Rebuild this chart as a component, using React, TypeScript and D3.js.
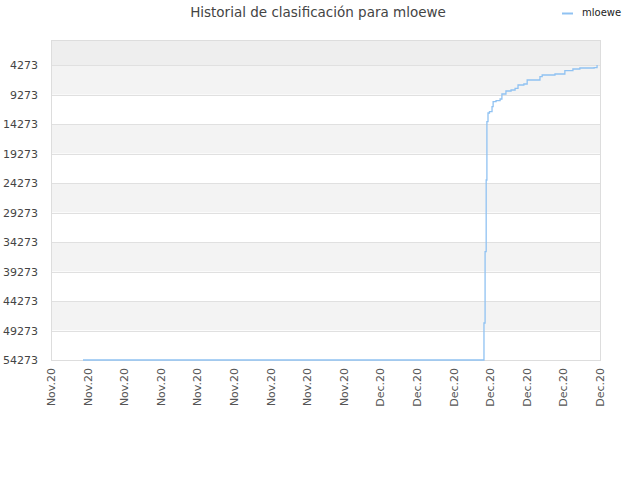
import React, { useEffect, useRef } from "react";
import * as d3 from "d3";

// tick positions are in "tick units" (0..15), labels below
const tickLabels = [
  "Nov.20", "Nov.20", "Nov.20", "Nov.20", "Nov.20", "Nov.20", "Nov.20", "Nov.20", "Nov.20",
  "Dec.20", "Dec.20", "Dec.20", "Dec.20", "Dec.20", "Dec.20", "Dec.20",
];
const yTicks = [4273, 9273, 14273, 19273, 24273, 29273, 34273, 39273, 44273, 49273, 54273];

const rankX = [
  0.874, 11.83, 11.86, 11.89, 11.91, 11.94, 11.98, 12.05, 12.08, 12.16, 12.27, 12.32, 12.43,
  12.57, 12.68, 12.76, 12.92, 13.01, 13.36, 13.42, 13.77, 14.04, 14.26, 14.45, 14.84, 14.92,
];
const rankValues = [
  54273, 47998, 35905, 23744, 13857, 12381, 12161, 11313, 10465, 10295, 10007, 9159, 8650,
  8480, 8192, 7632, 7462, 6784, 6224, 5936, 5767, 5207, 4918, 4749, 4698, 4240,
];

const W = 640;
const H = 480;
const margin = { top: 40, right: 40, bottom: 120, left: 51 };
const font = "DejaVu Sans, Verdana, sans-serif";

const App = () => {
  const ref = useRef<SVGSVGElement>(null);

  useEffect(() => {
    draw();
  });

  const draw = () => {
    const svg = d3.select(ref.current);
    svg.selectAll("*").remove();

    const width = W - margin.left - margin.right;
    const height = H - margin.top - margin.bottom;

    const x = d3.scaleLinear().domain([0, tickLabels.length - 1]).range([margin.left, margin.left + width]);
    const y = d3.scaleLinear().domain([0, 54273]).range([margin.top, margin.top + height]);

    // bands
    const edges = [0, ...yTicks];
    const bands = edges.slice(0, -1).map((v, i) => ({ a: v, b: edges[i + 1], i }));
    svg.append("g")
      .selectAll("rect")
      .data(bands)
      .enter()
      .append("rect")
      .attr("x", margin.left)
      .attr("width", width)
      .attr("y", (d) => y(d.a))
      .attr("height", (d) => y(d.b) - y(d.a))
      .attr("fill", (d) => (d.i === 0 ? "#eeeeee" : d.i % 2 === 1 ? "#f3f3f3" : "#ffffff"));

    // grid
    svg.append("g")
      .selectAll("line")
      .data(yTicks)
      .enter()
      .append("line")
      .attr("x1", margin.left)
      .attr("x2", margin.left + width)
      .attr("y1", (d) => Math.round(y(d)) + 0.5)
      .attr("y2", (d) => Math.round(y(d)) + 0.5)
      .attr("stroke", "#e0e0e0");

    svg.append("rect")
      .attr("x", margin.left + 0.5)
      .attr("y", margin.top + 0.5)
      .attr("width", width)
      .attr("height", height)
      .attr("fill", "none")
      .attr("stroke", "#dddddd");

    // y labels
    svg.append("g")
      .selectAll("text")
      .data(yTicks)
      .enter()
      .append("text")
      .attr("x", 38)
      .attr("y", (d) => y(d) + 4)
      .attr("text-anchor", "end")
      .attr("font-family", font)
      .attr("font-size", 11)
      .attr("fill", "#444")
      .text((d) => String(d));

    // x labels
    svg.append("g")
      .selectAll("text")
      .data(tickLabels)
      .enter()
      .append("text")
      .attr("transform", (_d, i) => `translate(${x(i) + 4}, ${margin.top + height + 8}) rotate(-90)`)
      .attr("text-anchor", "end")
      .attr("font-family", font)
      .attr("font-size", 11)
      .attr("fill", "#555")
      .text((d) => d);

    // line
    const pts = rankX.map((v, i) => [v, rankValues[i]] as [number, number]);
    const line = d3
      .line<[number, number]>()
      .x((d) => x(d[0]))
      .y((d) => y(d[1]))
      .curve(d3.curveStepAfter);
    svg.append("path")
      .datum(pts)
      .attr("fill", "none")
      .attr("stroke", "#90c2f2")
      .attr("stroke-width", 1.3)
      .attr("d", line);

    // title
    svg.append("text")
      .attr("x", 318)
      .attr("y", 17)
      .attr("text-anchor", "middle")
      .attr("font-family", font)
      .attr("font-size", 13.5)
      .attr("fill", "#444")
      .text("Historial de clasificación para mloewe");

    // legend
    svg.append("line")
      .attr("x1", 562)
      .attr("x2", 573)
      .attr("y1", 13.5)
      .attr("y2", 13.5)
      .attr("stroke", "#90c2f2")
      .attr("stroke-width", 2);
    svg.append("text")
      .attr("x", 582)
      .attr("y", 16)
      .attr("font-family", font)
      .attr("font-size", 10)
      .attr("fill", "#222")
      .text("mloewe");
  };

  return (
    <svg
      ref={ref}
      width={W}
      height={H}
      style={{ position: "absolute", left: 0, top: 0, background: "#fff" }}
    />
  );
};

export default App;
